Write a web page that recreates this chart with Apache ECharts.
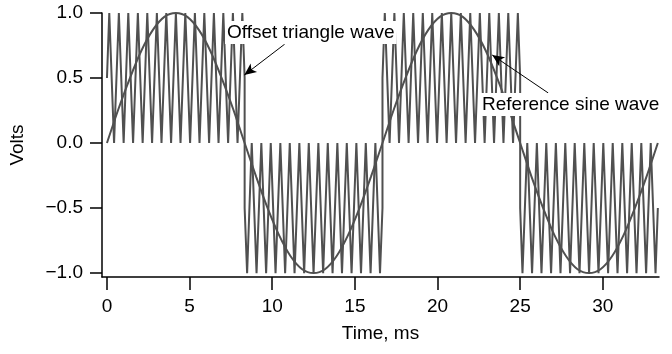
<!DOCTYPE html>
<html><head><meta charset="utf-8">
<script src="https://cdn.jsdelivr.net/npm/echarts@6/dist/echarts.min.js"></script>
<style>html,body{margin:0;padding:0;background:#fff}#c{width:672px;height:354px}</style>
</head><body><div id="c"></div>
<script>
// ---- data ----
const xTickValues = [0, 5, 10, 15, 20, 25, 30];
const xTickLabels = ['0', '5', '10', '15', '20', '25', '30'];
const yTickValues = [-1, -0.5, 0, 0.5, 1];
const yTickLabels = ['\u22121.0', '\u22120.5', '0.0', '0.5', '1.0'];

const sineTime = [0, 0.69, 1.39, 2.08, 2.78, 3.47, 4.17, 4.86, 5.56, 6.25, 6.94, 7.64, 8.33, 9.03, 9.72, 10.42, 11.11, 11.81, 12.50, 13.19, 13.89, 14.58, 15.28, 15.97, 16.67, 17.36, 18.06, 18.75, 19.44, 20.14, 20.83, 21.53, 22.22, 22.92, 23.61, 24.31, 25.00, 25.69, 26.39, 27.08, 27.78, 28.47, 29.17, 29.86, 30.56, 31.25, 31.94, 32.64, 33.33];
const sineVolts = [0, 0.26, 0.5, 0.71, 0.87, 0.97, 1, 0.97, 0.87, 0.71, 0.5, 0.26, 0, -0.26, -0.5, -0.71, -0.87, -0.97, -1, -0.97, -0.87, -0.71, -0.5, -0.26,
                   0, 0.26, 0.5, 0.71, 0.87, 0.97, 1, 0.97, 0.87, 0.71, 0.5, 0.26, 0, -0.26, -0.5, -0.71, -0.87, -0.97, -1, -0.97, -0.87, -0.71, -0.5, -0.26, 0];

const triTime = [
  0, 0.14, 0.43, 0.72, 1.01, 1.29, 1.58, 1.87, 2.16, 2.44, 2.73, 3.02, 3.30, 3.59, 3.88, 4.17, 4.45, 4.74, 5.03, 5.32, 5.60, 5.89, 6.18, 6.47, 6.75, 7.04, 7.33, 7.62, 7.90, 8.19, 8.33,
  8.33, 8.48, 8.76, 9.05, 9.34, 9.63, 9.91, 10.20, 10.49, 10.78, 11.06, 11.35, 11.64, 11.93, 12.21, 12.50, 12.79, 13.08, 13.36, 13.65, 13.94, 14.22, 14.51, 14.80, 15.09, 15.37, 15.66, 15.95, 16.24, 16.52, 16.67,
  16.67, 16.81, 17.10, 17.39, 17.67, 17.96, 18.25, 18.53, 18.82, 19.11, 19.40, 19.68, 19.97, 20.26, 20.55, 20.83, 21.12, 21.41, 21.70, 21.98, 22.27, 22.56, 22.85, 23.13, 23.42, 23.71, 23.99, 24.28, 24.57, 24.86, 25.00,
  25.00, 25.14, 25.43, 25.72, 26.01, 26.29, 26.58, 26.87, 27.16, 27.44, 27.73, 28.02, 28.30, 28.59, 28.88, 29.17, 29.45, 29.74, 30.03, 30.32, 30.60, 30.89, 31.18, 31.47, 31.75, 32.04, 32.33, 32.62, 32.90, 33.19, 33.33
];
const triVolts = [
  0.5, 1, 0, 1, 0, 1, 0, 1, 0, 1, 0, 1, 0, 1, 0, 1, 0, 1, 0, 1, 0, 1, 0, 1, 0, 1, 0, 1, 0, 1, 0.5,
  -0.5, -1, 0, -1, 0, -1, 0, -1, 0, -1, 0, -1, 0, -1, 0, -1, 0, -1, 0, -1, 0, -1, 0, -1, 0, -1, 0, -1, 0, -1, -0.5,
  0.5, 1, 0, 1, 0, 1, 0, 1, 0, 1, 0, 1, 0, 1, 0, 1, 0, 1, 0, 1, 0, 1, 0, 1, 0, 1, 0, 1, 0, 1, 0.5,
  -0.5, -1, 0, -1, 0, -1, 0, -1, 0, -1, 0, -1, 0, -1, 0, -1, 0, -1, 0, -1, 0, -1, 0, -1, 0, -1, 0, -1, 0, -1, -0.5
];

const annotations = [
  { text: 'Offset triangle wave', tail: [10.75, 0.76], head: [8.31, 0.523] },
  { text: 'Reference sine wave', tail: [26.70, 0.385], head: [23.31, 0.677] }
];

// ---- chart ----
const FONT = '"Liberation Sans", Arial, Helvetica, sans-serif';
const FS = 19;
const GRAY = '#505050';
const pick = (vals, labels) => v => {
  for (let i = 0; i < vals.length; i++) if (Math.abs(vals[i] - v) < 1e-9) return labels[i];
  return '';
};

const chart = echarts.init(document.getElementById('c'), null, { renderer: 'canvas' });
chart.setOption({
  animation: false,
  backgroundColor: '#fff',
  grid: { left: 100, right: 13, top: 13, bottom: 77 },
  xAxis: {
    type: 'value', min: -0.3, max: 33.4,
    axisLine: { show: true, onZero: false, lineStyle: { color: '#000', width: 1.5 } },
    axisTick: { show: true, customValues: xTickValues, length: 13, lineStyle: { color: '#000', width: 1.5 } },
    axisLabel: { customValues: xTickValues, formatter: pick(xTickValues, xTickLabels), margin: 20, fontSize: FS, color: '#000', fontFamily: FONT },
    splitLine: { show: false },
    name: 'Time, ms', nameLocation: 'middle', nameGap: 47,
    nameTextStyle: { fontSize: FS, color: '#000', fontFamily: FONT }
  },
  yAxis: {
    type: 'value', min: -1.03, max: 1,
    axisLine: { show: true, onZero: false, lineStyle: { color: '#000', width: 1.5 } },
    axisTick: { show: true, customValues: yTickValues, length: 12, lineStyle: { color: '#000', width: 1.5 } },
    axisLabel: { customValues: yTickValues, formatter: pick(yTickValues, yTickLabels), margin: 19, fontSize: FS, color: '#000', fontFamily: FONT },
    splitLine: { show: false },
    name: 'Volts', nameLocation: 'middle', nameGap: 75,
    nameTextStyle: { fontSize: FS, color: '#000', fontFamily: FONT }
  },
  series: [
    {
      name: 'Offset triangle wave', type: 'line', showSymbol: false, z: 2,
      data: triTime.map((t, i) => [t, triVolts[i]]),
      lineStyle: { color: GRAY, width: 2 }
    },
    {
      name: 'Reference sine wave', type: 'line', showSymbol: false, smooth: 0.3, z: 3,
      data: sineTime.map((t, i) => [t, sineVolts[i]]),
      lineStyle: { color: GRAY, width: 2 }
    },
    {
      name: 'arrows', type: 'line', data: [], z: 10,
      markLine: {
        silent: true, animation: false,
        symbol: ['none', 'arrow'], symbolSize: [8, 12],
        lineStyle: { color: '#000', width: 1, type: 'solid' },
        label: { show: false },
        data: annotations.map(a => [{ coord: a.tail }, { coord: a.head }])
      }
    }
  ],
  graphic: [
    { type: 'text', left: 225, top: 21, z: 100,
      style: { text: annotations[0].text, fontSize: FS, fontFamily: FONT, fill: '#000', backgroundColor: '#fff', padding: [2, 2, 2, 2] } },
    { type: 'text', left: 480, top: 93, z: 100,
      style: { text: annotations[1].text, fontSize: FS, fontFamily: FONT, fill: '#000', backgroundColor: '#fff', padding: [2, 2, 2, 2] } }
  ]
});
</script></body></html>
